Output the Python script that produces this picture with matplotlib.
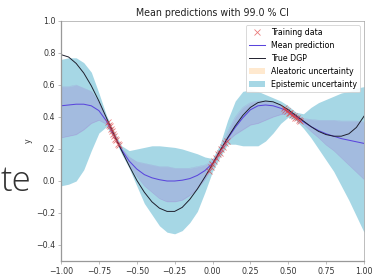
import numpy as np
import matplotlib
matplotlib.use("Agg")
import matplotlib.pyplot as plt

# x grid for the curves / bands
x_grid = np.linspace(-1.0, 1.0, 41)

true_dgp = [0.79, 0.775, 0.735, 0.675, 0.595, 0.50, 0.395, 0.29, 0.19, 0.095, 0.005,
            -0.07, -0.13, -0.17, -0.19, -0.19, -0.165, -0.115, -0.05, 0.025, 0.105,
            0.19, 0.27, 0.345, 0.41, 0.46, 0.49, 0.50, 0.495, 0.475, 0.445,
            0.41, 0.375, 0.34, 0.31, 0.29, 0.28, 0.28, 0.295, 0.335, 0.405]

mean_pred = [0.47, 0.475, 0.48, 0.48, 0.47, 0.44, 0.375, 0.285, 0.195, 0.125, 0.075,
             0.04, 0.02, 0.008, 0.00, 0.00, 0.005, 0.015, 0.035, 0.065, 0.11,
             0.185, 0.265, 0.335, 0.395, 0.445, 0.47, 0.475, 0.47, 0.455, 0.435,
             0.405, 0.37, 0.34, 0.315, 0.295, 0.28, 0.265, 0.255, 0.245, 0.235]

epi_upper = [0.76, 0.77, 0.77, 0.74, 0.68, 0.55, 0.41, 0.31, 0.22, 0.19, 0.20,
             0.21, 0.22, 0.22, 0.215, 0.21, 0.20, 0.185, 0.17, 0.15, 0.14,
             0.23, 0.38, 0.50, 0.56, 0.57, 0.56, 0.54, 0.52, 0.50, 0.47,
             0.43, 0.42, 0.46, 0.49, 0.51, 0.53, 0.55, 0.56, 0.58, 0.59]

epi_lower = [-0.03, -0.02, 0.00, 0.07, 0.19, 0.30, 0.34, 0.27, 0.17, 0.08, -0.03,
             -0.14, -0.21, -0.28, -0.32, -0.33, -0.31, -0.26, -0.19, -0.07, 0.06,
             0.15, 0.23, 0.23, 0.22, 0.22, 0.22, 0.25, 0.30, 0.36, 0.40,
             0.38, 0.33, 0.27, 0.20, 0.13, 0.06, -0.03, -0.12, -0.22, -0.32]

# denser purple region of the posterior samples
samp_upper = [0.59, 0.59, 0.60, 0.58, 0.56, 0.49, 0.39, 0.295, 0.205, 0.15, 0.12,
              0.11, 0.10, 0.09, 0.09, 0.08, 0.08, 0.08, 0.09, 0.10, 0.125,
              0.20, 0.31, 0.40, 0.46, 0.49, 0.50, 0.50, 0.49, 0.475, 0.445,
              0.415, 0.39, 0.385, 0.38, 0.38, 0.38, 0.375, 0.375, 0.375, 0.37]

samp_lower = [0.27, 0.28, 0.29, 0.32, 0.36, 0.38, 0.355, 0.275, 0.185, 0.10, 0.03,
              -0.03, -0.07, -0.11, -0.13, -0.13, -0.12, -0.09, -0.05, 0.01, 0.09,
              0.17, 0.25, 0.29, 0.32, 0.35, 0.36, 0.38, 0.40, 0.415, 0.42,
              0.39, 0.355, 0.31, 0.27, 0.225, 0.19, 0.145, 0.10, 0.055, 0.01]

# training data (three clusters)
train_x = [-0.69, -0.683, -0.676, -0.669, -0.662, -0.655, -0.648, -0.641, -0.634, -0.627, -0.62,
           -0.025, -0.013, -0.001, 0.011, 0.023, 0.035, 0.047, 0.059, 0.071, 0.083, 0.095,
           0.47, 0.481, 0.492, 0.503, 0.514, 0.525, 0.536, 0.547, 0.558, 0.569, 0.58]
train_y = [0.37, 0.352, 0.343, 0.322, 0.313, 0.292, 0.283, 0.262, 0.254, 0.231, 0.224,
           0.065, 0.088, 0.105, 0.128, 0.142, 0.168, 0.178, 0.203, 0.212, 0.238, 0.248,
           0.455, 0.443, 0.439, 0.428, 0.426, 0.412, 0.409, 0.396, 0.394, 0.381, 0.377]

ci_level = 99.0

dpi = 57
fig = plt.figure(figsize=(385 / dpi, 274 / dpi), dpi=dpi)
ax = fig.add_axes([61 / 385, 13 / 274, 303 / 385, 240 / 274])

ax.fill_between(x_grid, np.array(mean_pred) - 0.01, np.array(mean_pred) + 0.01,
                color="bisque", alpha=0.8, lw=0, label="Aleatoric uncertainty")
ax.fill_between(x_grid, epi_lower, epi_upper, color="#a6d7e5", lw=0,
                label="Epistemic uncertainty")
ax.fill_between(x_grid, samp_lower, samp_upper, color="#9a4fc8", alpha=0.2, lw=0)
ax.plot(x_grid, samp_upper, color="#9a4fc8", lw=0.5, alpha=0.25)
ax.plot(x_grid, samp_lower, color="#9a4fc8", lw=0.5, alpha=0.25)

ax.plot(x_grid, mean_pred, color="#5a45dc", lw=1.3, label="Mean prediction")
ax.plot(x_grid, true_dgp, color="#1c1c2a", lw=1.2, label="True DGP")
ax.plot(train_x, train_y, "x", color="#e03c3c", alpha=0.7, ms=8, mew=1.0,
        label="Training data")

ax.set_xlim(-1, 1)
ax.set_ylim(-0.5, 1.0)
ax.set_xticks([-1.0, -0.75, -0.5, -0.25, 0.0, 0.25, 0.5, 0.75, 1.0])
ax.set_yticks([-0.4, -0.2, 0.0, 0.2, 0.4, 0.6, 0.8, 1.0])
ax.set_ylabel("y", color="#333333")
ax.set_title(f"Mean predictions with {ci_level} % CI", color="#222222")

for s in ax.spines.values():
    s.set_color("#999999")
ax.spines["left"].set_linewidth(1.6)
ax.spines["bottom"].set_linewidth(1.6)
ax.tick_params(colors="#999999", labelcolor="#333333")

h, l = ax.get_legend_handles_labels()
order = [4, 2, 3, 0, 1]
ax.legend([h[i] for i in order], [l[i] for i in order], loc="upper right",
          framealpha=0.9)

fig.text(1 / 385, 83 / 274, "te", ha="left", va="baseline", fontsize=44,
         family=["Open Sans", "DejaVu Sans"], fontweight="light", color="#333333")

fig.savefig("out.png", dpi=dpi)
